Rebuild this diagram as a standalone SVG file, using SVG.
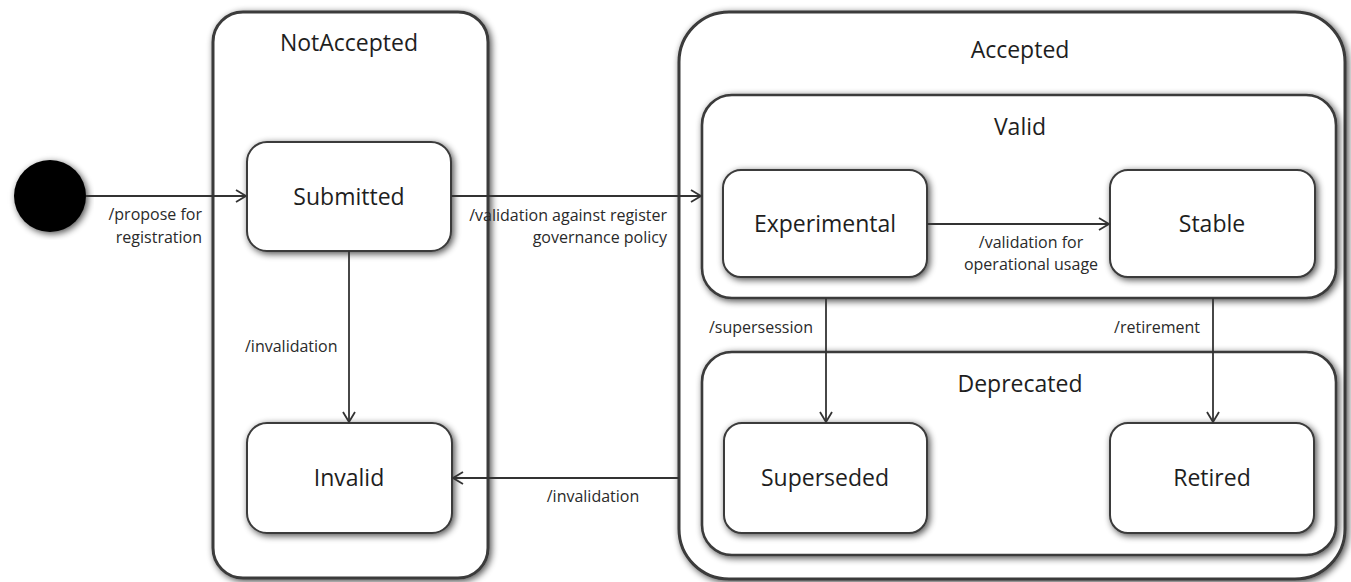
<svg xmlns="http://www.w3.org/2000/svg" width="1351" height="582" viewBox="0 0 1351 582">
<defs>
<filter id="sh" x="-10%" y="-10%" width="120%" height="120%">
<feGaussianBlur in="SourceAlpha" stdDeviation="3.5"/>
<feOffset dx="1.5" dy="1.5" result="b"/>
<feComponentTransfer><feFuncA type="linear" slope="0.7"/></feComponentTransfer>
<feMerge><feMergeNode/><feMergeNode in="SourceGraphic"/></feMerge>
</filter>
<marker id="arr" markerWidth="14" markerHeight="14" refX="12" refY="7" orient="auto" markerUnits="userSpaceOnUse">
<path d="M2,1 L12,7 L2,13" fill="none" stroke="#333" stroke-width="1.8"/>
</marker>
</defs>
<style>
.box{fill:#fff;stroke:#3a3a3a;filter:url(#sh)}
.outer{stroke-width:3}
.mid{stroke-width:2.6}
.st{stroke-width:2}
.t{font-family:"Open Sans","Noto Sans",sans-serif;fill:#1e1e1e;text-anchor:middle}
.title{font-size:23px}
.name{font-size:23px}
.lbl{font-family:"Open Sans","Noto Sans",sans-serif;fill:#2a2a2a;font-size:16px}
.c{fill:none;stroke:#333;stroke-width:1.8;marker-end:url(#arr)}
</style>
<rect width="1351" height="582" fill="#fff"/>
<g id="initial"><circle cx="50" cy="196" r="36" fill="#000" filter="url(#sh)"/></g>
<g id="NotAccepted">
<rect class="box outer" x="213" y="12" width="275" height="566" rx="30"/>
<text class="t title" x="349" y="51">NotAccepted</text>
</g>
<g id="Accepted">
<rect class="box outer" x="679" y="12" width="666" height="567" rx="50"/>
<text class="t title" x="1020" y="58">Accepted</text>
</g>
<g id="Valid">
<rect class="box mid" x="702" y="95" width="634" height="203" rx="30"/>
<text class="t title" x="1020" y="135">Valid</text>
</g>
<g id="Deprecated">
<rect class="box mid" x="702" y="352" width="634" height="203" rx="30"/>
<text class="t title" x="1020" y="392">Deprecated</text>
</g>
<g id="Submitted">
<rect class="box st" x="247" y="142" width="204" height="109" rx="20"/>
<text class="t name" x="349" y="205">Submitted</text>
</g>
<g id="Invalid">
<rect class="box st" x="247" y="423" width="205" height="110" rx="20"/>
<text class="t name" x="349" y="486">Invalid</text>
</g>
<g id="Experimental">
<rect class="box st" x="723" y="170" width="204" height="107" rx="18"/>
<text class="t name" x="825" y="232">Experimental</text>
</g>
<g id="Stable">
<rect class="box st" x="1110" y="170" width="205" height="107" rx="18"/>
<text class="t name" x="1212" y="232">Stable</text>
</g>
<g id="Superseded">
<rect class="box st" x="724" y="423" width="203" height="110" rx="18"/>
<text class="t name" x="825" y="486">Superseded</text>
</g>
<g id="Retired">
<rect class="box st" x="1110" y="423" width="204" height="110" rx="18"/>
<text class="t name" x="1212" y="486">Retired</text>
</g>
<g id="connectors">
<line class="c" x1="86" y1="196" x2="246" y2="196"/>
<line class="c" x1="451" y1="196" x2="701" y2="196"/>
<line class="c" x1="349" y1="251" x2="349" y2="422"/>
<line class="c" x1="679" y1="478" x2="453" y2="478"/>
<line class="c" x1="927" y1="224" x2="1109" y2="224"/>
<line class="c" x1="826" y1="298" x2="826" y2="422"/>
<line class="c" x1="1213" y1="298" x2="1213" y2="422"/>
<text class="lbl" x="202" y="220" text-anchor="end">/propose for</text>
<text class="lbl" x="202" y="243" text-anchor="end">registration</text>
<text class="lbl" x="667" y="221" text-anchor="end">/validation against register</text>
<text class="lbl" x="667" y="243" text-anchor="end">governance policy</text>
<text class="lbl" x="245" y="352">/invalidation</text>
<text class="lbl" x="593" y="502" text-anchor="middle">/invalidation</text>
<text class="lbl" x="1031" y="248" text-anchor="middle">/validation for</text>
<text class="lbl" x="1031" y="270" text-anchor="middle">operational usage</text>
<text class="lbl" x="709" y="333">/supersession</text>
<text class="lbl" x="1200" y="333" text-anchor="end">/retirement</text>
</g>
</svg>
